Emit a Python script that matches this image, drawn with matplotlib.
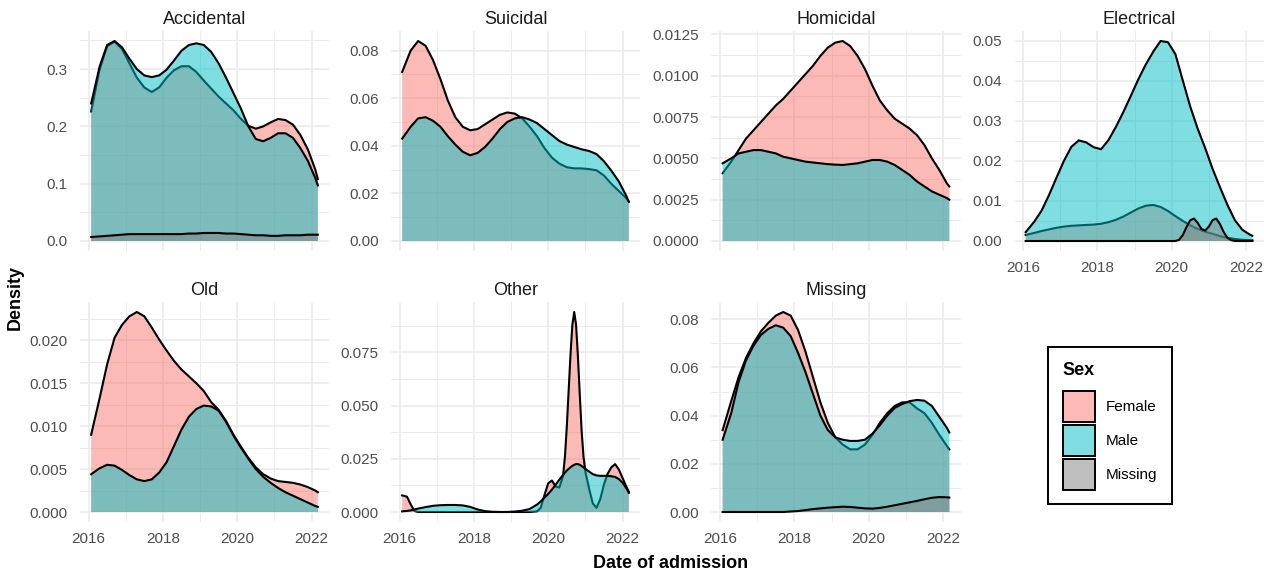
import matplotlib
matplotlib.use('Agg')
import matplotlib.pyplot as plt
from matplotlib.patches import Patch
from matplotlib.colors import to_rgba
from matplotlib.ticker import MultipleLocator, AutoMinorLocator, FormatStrFormatter

plt.rcParams['font.family'] = ['Liberation Sans', 'DejaVu Sans']

# x grid (date of admission, years) the curves were read at
yr = [2016.07, 2016.3, 2016.5, 2016.7, 2016.9, 2017.1, 2017.3, 2017.5,
      2017.7, 2017.9, 2018.1, 2018.3, 2018.5, 2018.7, 2018.9, 2019.1,
      2019.3, 2019.5, 2019.7, 2019.9, 2020.1, 2020.3, 2020.5, 2020.7,
      2020.9, 2021.1, 2021.3, 2021.5, 2021.7, 2021.9, 2022.1, 2022.17]

# Accidental
acc_female = [0.226, 0.300, 0.340, 0.348, 0.335, 0.310, 0.285, 0.268,
              0.260, 0.268, 0.285, 0.298, 0.305, 0.305, 0.295, 0.280,
              0.266, 0.252, 0.240, 0.228, 0.213, 0.201, 0.196, 0.200,
              0.207, 0.213, 0.211, 0.203, 0.185, 0.160, 0.125, 0.108]
acc_male = [0.240, 0.305, 0.342, 0.349, 0.338, 0.318, 0.300, 0.289,
            0.286, 0.289, 0.299, 0.315, 0.332, 0.342, 0.345, 0.342,
            0.330, 0.310, 0.285, 0.258, 0.231, 0.200, 0.178, 0.174,
            0.180, 0.188, 0.188, 0.180, 0.162, 0.140, 0.110, 0.097]
acc_missing = [0.007, 0.008, 0.009, 0.010, 0.011, 0.012, 0.012, 0.012,
               0.012, 0.012, 0.012, 0.012, 0.012, 0.013, 0.013, 0.014,
               0.014, 0.014, 0.013, 0.013, 0.012, 0.011, 0.010, 0.010,
               0.009, 0.009, 0.010, 0.010, 0.010, 0.011, 0.011, 0.011]

# Suicidal
sui_female = [0.071, 0.080, 0.084, 0.082, 0.076, 0.068, 0.059, 0.052,
              0.048, 0.0465, 0.047, 0.049, 0.051, 0.053, 0.054, 0.0535,
              0.0515, 0.048, 0.044, 0.039, 0.035, 0.0325, 0.031, 0.0305,
              0.0305, 0.0302, 0.0297, 0.0275, 0.024, 0.021, 0.018, 0.0165]
sui_male = [0.043, 0.048, 0.0515, 0.052, 0.0505, 0.048, 0.044, 0.0405,
            0.0375, 0.036, 0.037, 0.0395, 0.043, 0.047, 0.050, 0.0515,
            0.052, 0.051, 0.0495, 0.047, 0.0445, 0.042, 0.0405, 0.0395,
            0.0385, 0.0378, 0.0365, 0.0335, 0.0295, 0.025, 0.019, 0.0165]

# Homicidal
hom_female = [0.0041, 0.0048, 0.0055, 0.0062, 0.0067, 0.0072, 0.0077, 0.0082,
              0.0086, 0.0091, 0.0096, 0.0101, 0.0106, 0.0112, 0.0117, 0.0120,
              0.0121, 0.0118, 0.0112, 0.0104, 0.0094, 0.0085, 0.0079, 0.0074,
              0.0071, 0.0068, 0.0064, 0.0058, 0.0050, 0.0043, 0.0035, 0.0033]
hom_male = [0.0047, 0.0050, 0.0053, 0.0054, 0.0055, 0.0055, 0.0054, 0.0053,
            0.0051, 0.0050, 0.0049, 0.0048, 0.00475, 0.0047, 0.00465, 0.00462,
            0.0046, 0.00465, 0.0047, 0.0048, 0.0049, 0.0049, 0.0048, 0.0046,
            0.0043, 0.0040, 0.0036, 0.0033, 0.0030, 0.0028, 0.0026, 0.0025]

# Electrical
ele_female = [0.0015, 0.0020, 0.0025, 0.0029, 0.0033, 0.0036, 0.0038, 0.0039,
              0.0040, 0.0041, 0.0043, 0.0047, 0.0053, 0.0061, 0.0071, 0.0081,
              0.0088, 0.0090, 0.0085, 0.0075, 0.0062, 0.0050, 0.0039, 0.0030,
              0.0023, 0.0018, 0.0012, 0.0008, 0.0005, 0.0003, 0.0002, 0.0002]
ele_male = [0.0022, 0.0048, 0.0076, 0.0115, 0.0158, 0.0200, 0.0235, 0.0251,
            0.0246, 0.0234, 0.0229, 0.0252, 0.0285, 0.0322, 0.0362, 0.0403,
            0.0440, 0.0472, 0.0499, 0.0496, 0.0466, 0.0400, 0.0335, 0.0280,
            0.0232, 0.0180, 0.0134, 0.0090, 0.0052, 0.0028, 0.0016, 0.0013]
ele_missing_x = [2016.07, 2020.1, 2020.2, 2020.3, 2020.4, 2020.5, 2020.6, 2020.7,
                 2020.8, 2020.9, 2021.0, 2021.1, 2021.2, 2021.3, 2021.4, 2021.5,
                 2021.6, 2021.7, 2022.17]
ele_missing = [0.0, 0.0, 0.0003, 0.0015, 0.0035, 0.0052, 0.0056, 0.0045,
               0.0030, 0.0026, 0.0036, 0.0052, 0.0056, 0.0042, 0.0022, 0.0008,
               0.0002, 0.0, 0.0]

# Old
old_female = [0.0090, 0.0133, 0.0172, 0.0203, 0.0218, 0.0228, 0.0233, 0.0228,
              0.0215, 0.0201, 0.0188, 0.0176, 0.0166, 0.0158, 0.0150, 0.0141,
              0.0128, 0.0119, 0.0106, 0.0090, 0.0076, 0.0063, 0.0052, 0.0044,
              0.0039, 0.0036, 0.0035, 0.0034, 0.0032, 0.0029, 0.0025, 0.0023]
old_male = [0.0044, 0.0051, 0.0055, 0.0054, 0.0049, 0.0043, 0.0038, 0.0036,
            0.0038, 0.0046, 0.0058, 0.0077, 0.0096, 0.0111, 0.0120, 0.0124,
            0.0123, 0.0118, 0.0105, 0.0089, 0.0075, 0.0062, 0.0050, 0.0041,
            0.0034, 0.0028, 0.0023, 0.0019, 0.0015, 0.0011, 0.0007, 0.0006]

# Other (finer grid around the spike)
oth_x = [2016.07, 2016.2, 2016.3, 2016.4, 2016.5, 2016.7, 2016.9, 2017.1, 2017.3, 2017.5,
         2017.7, 2017.9, 2018.1, 2018.3, 2018.5, 2018.7, 2018.9, 2019.1, 2019.3, 2019.5,
         2019.7, 2019.8, 2019.9, 2020.0, 2020.1, 2020.2, 2020.3, 2020.4, 2020.45, 2020.5,
         2020.55, 2020.6, 2020.65, 2020.7, 2020.75, 2020.8, 2020.85, 2020.9, 2020.95, 2021.0,
         2021.1, 2021.2, 2021.3, 2021.4, 2021.5, 2021.6, 2021.7, 2021.8, 2021.9, 2022.0,
         2022.1, 2022.17]
oth_female = [0.0078, 0.0072, 0.0036, 0.0005, 0.0, 0.0, 0.0, 0.0, 0.0, 0.0,
              0.0, 0.0, 0.0, 0.0, 0.0, 0.0, 0.0, 0.0, 0.0, 0.0,
              0.0003, 0.002, 0.008, 0.0135, 0.0148, 0.012, 0.0115, 0.017, 0.026, 0.040,
              0.057, 0.074, 0.088, 0.094, 0.088, 0.073, 0.055, 0.038, 0.026, 0.019,
              0.011, 0.004, 0.002, 0.006, 0.013, 0.018, 0.021, 0.0225, 0.020, 0.016,
              0.012, 0.0095]
oth_male = [0.0003, 0.0005, 0.0008, 0.0012, 0.0016, 0.0023, 0.0029, 0.0032, 0.0033, 0.0033,
            0.0031, 0.0024, 0.0012, 0.0004, 0.0001, 0.0, 0.0, 0.0002, 0.0006, 0.0014,
            0.0035, 0.005, 0.0068, 0.0085, 0.0105, 0.0128, 0.0152, 0.0175, 0.0185, 0.0195,
            0.0203, 0.021, 0.0217, 0.0222, 0.0225, 0.0225, 0.0222, 0.0216, 0.021, 0.0203,
            0.019, 0.0178, 0.0172, 0.017, 0.017, 0.017, 0.0168, 0.0165, 0.0155, 0.0138,
            0.0112, 0.009]

# Missing
mis_female = [0.034, 0.046, 0.056, 0.064, 0.070, 0.075, 0.0785, 0.0815,
              0.083, 0.0815, 0.0755, 0.0665, 0.056, 0.0455, 0.037, 0.031,
              0.028, 0.026, 0.026, 0.028, 0.032, 0.037, 0.041, 0.044,
              0.0455, 0.0455, 0.043, 0.041, 0.037, 0.032, 0.0275, 0.026]
mis_male = [0.030, 0.041, 0.054, 0.063, 0.069, 0.0735, 0.076, 0.0775,
            0.0765, 0.073, 0.066, 0.058, 0.049, 0.040, 0.034, 0.031,
            0.030, 0.0295, 0.0295, 0.030, 0.0325, 0.036, 0.040, 0.0432,
            0.0448, 0.046, 0.0465, 0.0462, 0.044, 0.0395, 0.035, 0.033]
mis_missing = [0.0, 0.0, 0.0, 0.0, 0.0, 0.0, 0.0, 0.0,
               0.0, 0.0002, 0.0004, 0.0008, 0.0012, 0.0015, 0.0018, 0.0020,
               0.0022, 0.0021, 0.0018, 0.0015, 0.0014, 0.0017, 0.0022, 0.0028,
               0.0034, 0.0040, 0.0046, 0.0053, 0.0059, 0.0062, 0.0061, 0.0060]

panels = ['Accidental', 'Suicidal', 'Homicidal', 'Electrical', 'Old', 'Other', 'Missing']
curves = {
    'Accidental': [('Female', yr, acc_female), ('Male', yr, acc_male), ('Missing', yr, acc_missing)],
    'Suicidal': [('Female', yr, sui_female), ('Male', yr, sui_male)],
    'Homicidal': [('Female', yr, hom_female), ('Male', yr, hom_male)],
    'Electrical': [('Female', yr, ele_female), ('Male', yr, ele_male), ('Missing', ele_missing_x, ele_missing)],
    'Old': [('Female', yr, old_female), ('Male', yr, old_male)],
    'Other': [('Female', oth_x, oth_female), ('Male', oth_x, oth_male)],
    'Missing': [('Female', yr, mis_female), ('Male', yr, mis_male), ('Missing', yr, mis_missing)],
}
sexes = ['Female', 'Male', 'Missing']
colors = {'Female': '#F8766D', 'Male': '#00BFC4', 'Missing': '#7F7F7F'}

# y axis break step and decimals per panel
ystep = {'Accidental': 0.1, 'Suicidal': 0.02, 'Homicidal': 0.0025, 'Electrical': 0.01,
         'Old': 0.005, 'Other': 0.025, 'Missing': 0.02}
ydec = {'Accidental': 1, 'Suicidal': 2, 'Homicidal': 4, 'Electrical': 2,
        'Old': 3, 'Other': 3, 'Missing': 2}

W, H = 1264, 572
fig = plt.figure(figsize=(W / 100, H / 100), dpi=100)
col_left = [80, 391, 711.5, 1014.5]
row_top = [31, 302]
pw, ph = 249, 220

for i, name in enumerate(panels):
    r, c = divmod(i, 4)
    ax = fig.add_axes([col_left[c] / W, 1 - (row_top[r] + ph) / H, pw / W, ph / H])
    hi = 0
    for z, (sex, x, y) in enumerate(curves[name]):
        ax.fill_between(x, 0, y, facecolor=to_rgba(colors[sex], 0.5), lw=0, zorder=2 + z)
        ax.plot(x, y, color='black', lw=1.5, zorder=2.5 + z, solid_joinstyle='round')
        hi = max(hi, max(y))
    ax.set_xlim(2015.77, 2022.47)
    ax.set_ylim(-0.05 * hi, 1.05 * hi)
    ax.xaxis.set_major_locator(MultipleLocator(2))
    ax.xaxis.set_minor_locator(MultipleLocator(1))
    ax.yaxis.set_major_locator(MultipleLocator(ystep[name]))
    ax.yaxis.set_minor_locator(AutoMinorLocator(2))
    ax.yaxis.set_major_formatter(FormatStrFormatter('%.' + str(ydec[name]) + 'f'))
    ax.grid(which='major', color='#EBEBEB', lw=1.2)
    ax.grid(which='minor', color='#EBEBEB', lw=0.7)
    ax.set_axisbelow(True)
    for s in ax.spines.values():
        s.set_visible(False)
    ax.tick_params(which='both', length=0, labelsize=11, labelcolor='#4D4D4D')
    ax.tick_params(axis='y', pad=9)
    ax.tick_params(axis='x', pad=7)
    if i < 3:
        ax.tick_params(axis='x', labelbottom=False)
    ax.set_title(name, fontsize=13, color='#1A1A1A', pad=5)

fig.text(671 / W, 1 - 564 / H, 'Date of admission', ha='center', va='center',
         fontsize=13, fontweight='bold')
fig.text(15 / W, 1 - 298 / H, 'Density', rotation=90, ha='center', va='center',
         fontsize=13, fontweight='bold')

handles = [Patch(facecolor=to_rgba(colors[s], 0.5), edgecolor='black', lw=1.4) for s in sexes]
leg = fig.legend(handles, sexes, title='Sex', loc='upper left',
                 bbox_to_anchor=(1048 / W, 1 - 347 / H), borderaxespad=0,
                 frameon=True, fancybox=False, framealpha=1, edgecolor='black',
                 fontsize=11, title_fontproperties={'weight': 'bold', 'size': 13},
                 alignment='left', handlelength=2.1, handleheight=2.74,
                 labelspacing=0.2, handletextpad=0.75, borderpad=0.95)
leg.get_frame().set_linewidth(1.4)
leg._legend_box.sep = 9  # gap between the "Sex" title and the keys

fig.savefig('out.png', dpi=100)
